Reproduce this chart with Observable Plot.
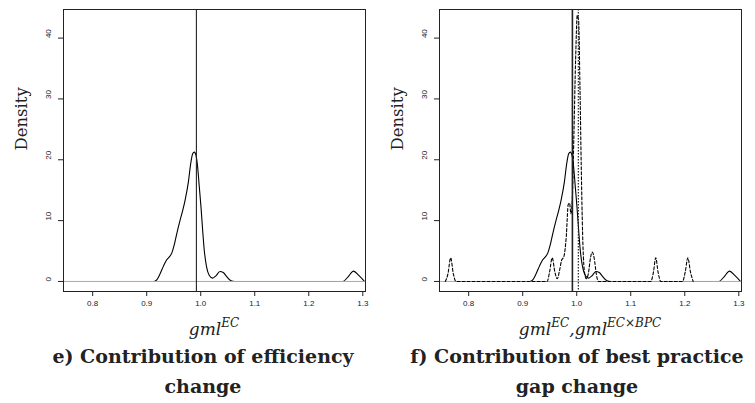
<!DOCTYPE html>
<html><head><meta charset="utf-8">
<script src="https://cdn.jsdelivr.net/npm/d3@7"></script>
<script src="https://cdn.jsdelivr.net/npm/@observablehq/plot@0.6"></script>
<style>
body{margin:0;background:#fff}
#root{position:relative;width:755px;height:403px;overflow:hidden;background:#fff}
.panel{position:absolute;top:0}
.xlab{position:absolute;font-family:"DejaVu Serif";font-style:italic;font-size:17px;line-height:20px;white-space:nowrap;color:#222;text-align:center}
.xlab sup{font-size:12px;vertical-align:0;position:relative;top:-8px;line-height:0}
.title{position:absolute;font-family:"DejaVu Serif";font-weight:bold;font-size:19px;line-height:30px;text-align:center;white-space:nowrap;color:#222}
</style>
</head><body>
<div id="root">
  <div id="p1" class="panel" style="left:0px"></div>
  <div id="p2" class="panel" style="left:377px"></div>
  <div class="xlab" style="left:114px;width:200px;top:319px">gml<sup>EC</sup></div>
  <div class="xlab" style="left:490px;width:200px;top:319px">gml<sup>EC</sup>,gml<sup>EC×BPC</sup></div>
  <div class="title" style="left:3px;width:400px;top:341px">e) Contribution of efficiency<br>change</div>
  <div class="title" style="left:377px;width:400px;top:341px">f) Contribution of best practice<br>gap change</div>
</div>
<script>
const xTicks = [0.8, 0.9, 1.0, 1.1, 1.2, 1.3];
const yTicks = [0, 10, 20, 30, 40];

// density of gml^EC (solid)
const ecX = [0.9138,0.9187,0.9248,0.9310,0.9371,0.9415,0.9464,0.9507,0.9556,0.9617,0.9667,0.9716,0.9771,0.9814,0.9851,0.9882,0.9913,0.9943,0.9974,1.0005,1.0036,1.0066,1.0109,1.0159,1.0220,1.0282,1.0355,1.0417,1.0478,1.0552,1.0632,1.2631,1.2723,1.2828,1.2926,1.3031];
const ecY = [0,0.27,1.26,2.52,3.56,4.0,4.66,5.92,7.84,10.03,11.67,13.59,16.33,19.34,20.99,21.26,20.71,18.79,15.51,12.22,8.38,5.10,2.36,0.99,0.55,0.93,1.64,1.48,0.82,0.16,0,0,0.71,1.70,0.99,0];

// density of gml^{EC x BPC} (dashed)
const bpcX = [0.7567,0.7617,0.7666,0.7716,0.7765,0.9453,0.9497,0.9546,0.9596,0.9639,0.9682,0.9719,0.9763,0.9806,0.9843,0.9868,0.9892,0.9917,0.9948,0.9979,1.0010,1.0035,1.0059,1.0084,1.0109,1.0140,1.0177,1.0214,1.0257,1.0288,1.0325,1.0362,1.0400,1.1370,1.1420,1.1463,1.1506,1.1556,1.1958,1.2008,1.2057,1.2106,1.2156];
const bpcY = [0,1.26,3.89,1.26,0,0,1.53,3.89,1.53,0.44,1.81,3.45,4.11,7.29,12.66,12.88,11.12,13.32,24.27,36.33,43.73,42.9,32.5,18.8,7.84,1.81,0.44,1.26,4.0,4.82,3.73,1.26,0,0,1.53,3.89,1.53,0,0,1.53,3.89,1.53,0];

const ecMean = [0.992];
const bpcMean = [1.003];

const ec = ecX.map((x, i) => ({x, y: ecY[i]}));
const bpc = bpcX.map((x, i) => ({x, y: bpcY[i]}));

function panel(width, marginLeft, marginRight, withBpc) {
  const marks = [
    Plot.axisX({ticks: xTicks, tickSize: 5, tickPadding: 4, tickFormat: d3.format(".1f"), fontSize: 8, label: null}),
    Plot.axisY({ticks: yTicks, tickSize: 5, tickFormat: () => "", label: null}),
    Plot.text(yTicks, {y: d => d, frameAnchor: "left", dx: -15, rotate: -90, text: d => String(d), fontSize: 8}),
    Plot.text(["Density"], {frameAnchor: "left", dx: -42, rotate: -90, text: d => d, fontSize: 16.5, fontFamily: "DejaVu Serif"}),
    Plot.line(ec, {x: "x", y: "y", curve: "monotone-x", stroke: "black", strokeWidth: 1.1, clip: true}),
    Plot.ruleY([0], {stroke: "#aaa", strokeWidth: 1})
  ];
  if (withBpc) {
    marks.push(Plot.line(bpc, {x: "x", y: "y", curve: "monotone-x", stroke: "black", strokeWidth: 1.1, strokeDasharray: "3,2", clip: true}));
    marks.push(Plot.ruleX(ecMean, {x: d => d, stroke: "#222", strokeWidth: 1.6}));
    marks.push(Plot.ruleX(bpcMean, {x: d => d, stroke: "#222", strokeWidth: 1.2, strokeDasharray: "1.5,1.5"}));
  } else {
    marks.push(Plot.ruleX(ecMean, {x: d => d, stroke: "#222", strokeWidth: 1.1}));
  }
  marks.push(Plot.frame({stroke: "#222"}));
  return Plot.plot({
    width, height: 320,
    marginTop: 9, marginBottom: 29, marginLeft, marginRight,
    x: {type: "linear", domain: [0.746, 1.305]},
    y: {type: "linear", domain: [-1.65, 44.7]},
    style: {fontFamily: "Liberation Sans", color: "#222", background: "white", overflow: "visible"},
    marks
  });
}

document.getElementById("p1").appendChild(panel(377, 63, 12, false));
document.getElementById("p2").appendChild(panel(378, 62, 14, true));
</script>
</body></html>
